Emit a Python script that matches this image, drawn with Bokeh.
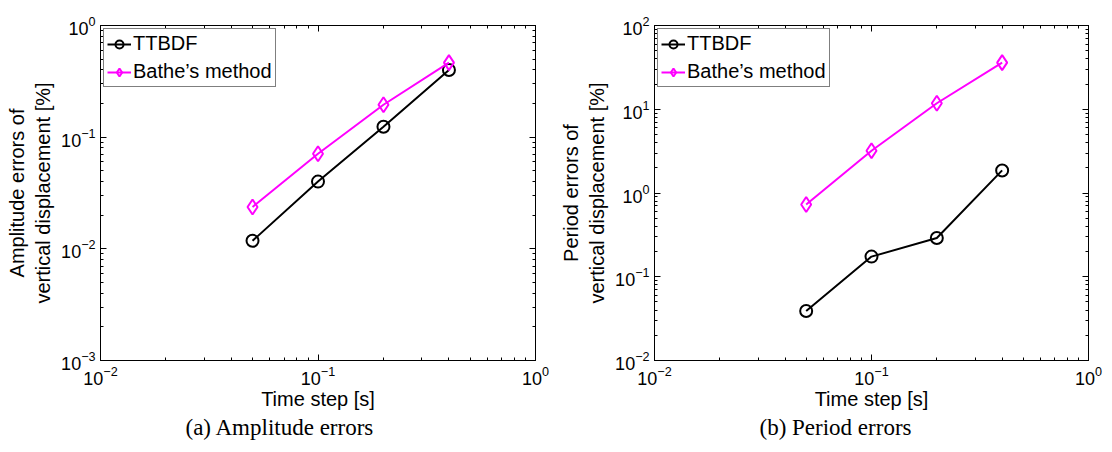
from bokeh.plotting import figure
from bokeh.layouts import row
from bokeh.models import LogAxis, Title, FixedTicker
from bokeh.embed import file_html
from bokeh.resources import INLINE

time_step = [0.05, 0.1, 0.2, 0.4]
amp_ttbdf = [0.0118, 0.040, 0.124, 0.40]
amp_bathe = [0.0237, 0.071, 0.195, 0.465]
per_ttbdf = [0.039, 0.174, 0.29, 1.86]
per_bathe = [0.73, 3.2, 11.8, 36.0]

x_decades = [-2, -1, 0]
amp_decades = [-3, -2, -1, 0]
per_decades = [-2, -1, 0, 1, 2]

SANS = "Liberation Sans"
SERIF = "Liberation Serif"


def decade_ticker(decs):
    major = [10.0 ** d for d in decs]
    minor = [m * 10.0 ** d for d in decs[:-1] for m in range(2, 10)]
    return FixedTicker(ticks=major, minor_ticks=minor)


def style_axis(ax, labels=True):
    ax.major_tick_in = 6
    ax.major_tick_out = 0
    ax.minor_tick_in = 3
    ax.minor_tick_out = 0
    ax.axis_line_color = "black"
    ax.major_tick_line_color = "black"
    ax.minor_tick_line_color = "black"
    if labels:
        ax.major_label_text_font = SANS
        ax.major_label_text_font_size = "18px"
        ax.major_label_text_color = "black"
        ax.axis_label_text_font = SANS
        ax.axis_label_text_font_size = "20px"
        ax.axis_label_text_font_style = "normal"
        ax.axis_label_text_color = "black"
    else:
        ax.major_label_text_font_size = "6px"
        ax.major_label_text_alpha = 0
        ax.major_label_standoff = 0


def make(yr, ydecs, ylabel, tt, bb, caption, bl, br, cap_off):
    p = figure(width=556, height=452, x_axis_type="log", y_axis_type="log",
               x_range=(0.01, 1), y_range=yr, output_backend="svg",
               toolbar_location=None, min_border_left=bl, min_border_right=br,
               min_border_top=25, min_border_bottom=92)
    p.grid.visible = False
    p.outline_line_color = "black"
    p.background_fill_color = "white"
    p.border_fill_color = "white"
    p.xaxis.axis_label = "Time step [s]"
    p.yaxis.axis_label = ylabel
    p.xaxis.axis_label_standoff = 0
    p.yaxis.axis_label_standoff = 4
    p.xaxis.ticker = decade_ticker(x_decades)
    p.yaxis.ticker = decade_ticker(ydecs)
    style_axis(p.xaxis[0])
    style_axis(p.yaxis[0])
    top = LogAxis(ticker=decade_ticker(x_decades))
    right = LogAxis(ticker=decade_ticker(ydecs))
    style_axis(top, False)
    style_axis(right, False)
    p.add_layout(top, "above")
    p.add_layout(right, "right")

    p.line(time_step, tt, line_color="black", line_width=2, legend_label="TTBDF")
    p.scatter(time_step, tt, marker="circle", size=12, fill_color=None,
              line_color="black", line_width=2, legend_label="TTBDF")
    p.line(time_step, bb, line_color="#ff00ff", line_width=2, legend_label="Bathe\u2019s method")
    p.scatter(time_step, bb, marker="diamond", size=15, fill_color=None,
              line_color="#ff00ff", line_width=2, legend_label="Bathe\u2019s method")

    lg = p.legend[0]
    lg.location = "top_left"
    lg.border_line_color = "black"
    lg.border_line_width = 1
    lg.background_fill_color = "white"
    lg.background_fill_alpha = 1
    lg.label_text_font = SANS
    lg.label_text_font_size = "20px"
    lg.label_text_color = "black"
    lg.glyph_width = 24
    lg.glyph_height = 20
    lg.label_height = 20
    lg.label_standoff = 2
    lg.spacing = 5
    lg.padding = 3
    lg.margin = 3

    p.add_layout(Title(text=caption, align="left", offset=cap_off,
                       text_font=SERIF, text_font_size="23px",
                       text_font_style="normal", text_color="black",
                       standoff=0), "below")
    return p


p1 = make((0.001, 1), amp_decades, "Amplitude errors of\nvertical displacement [%]",
          amp_ttbdf, amp_bathe, "(a) Amplitude errors", 100, 21, 85)
p2 = make((0.01, 100), per_decades, "Period errors of\nvertical displacement [%]",
          per_ttbdf, per_bathe, "(b) Period errors", 97, 24, 105)

layout = row(p1, p2)
open("out.html", "w").write(file_html(layout, INLINE))
